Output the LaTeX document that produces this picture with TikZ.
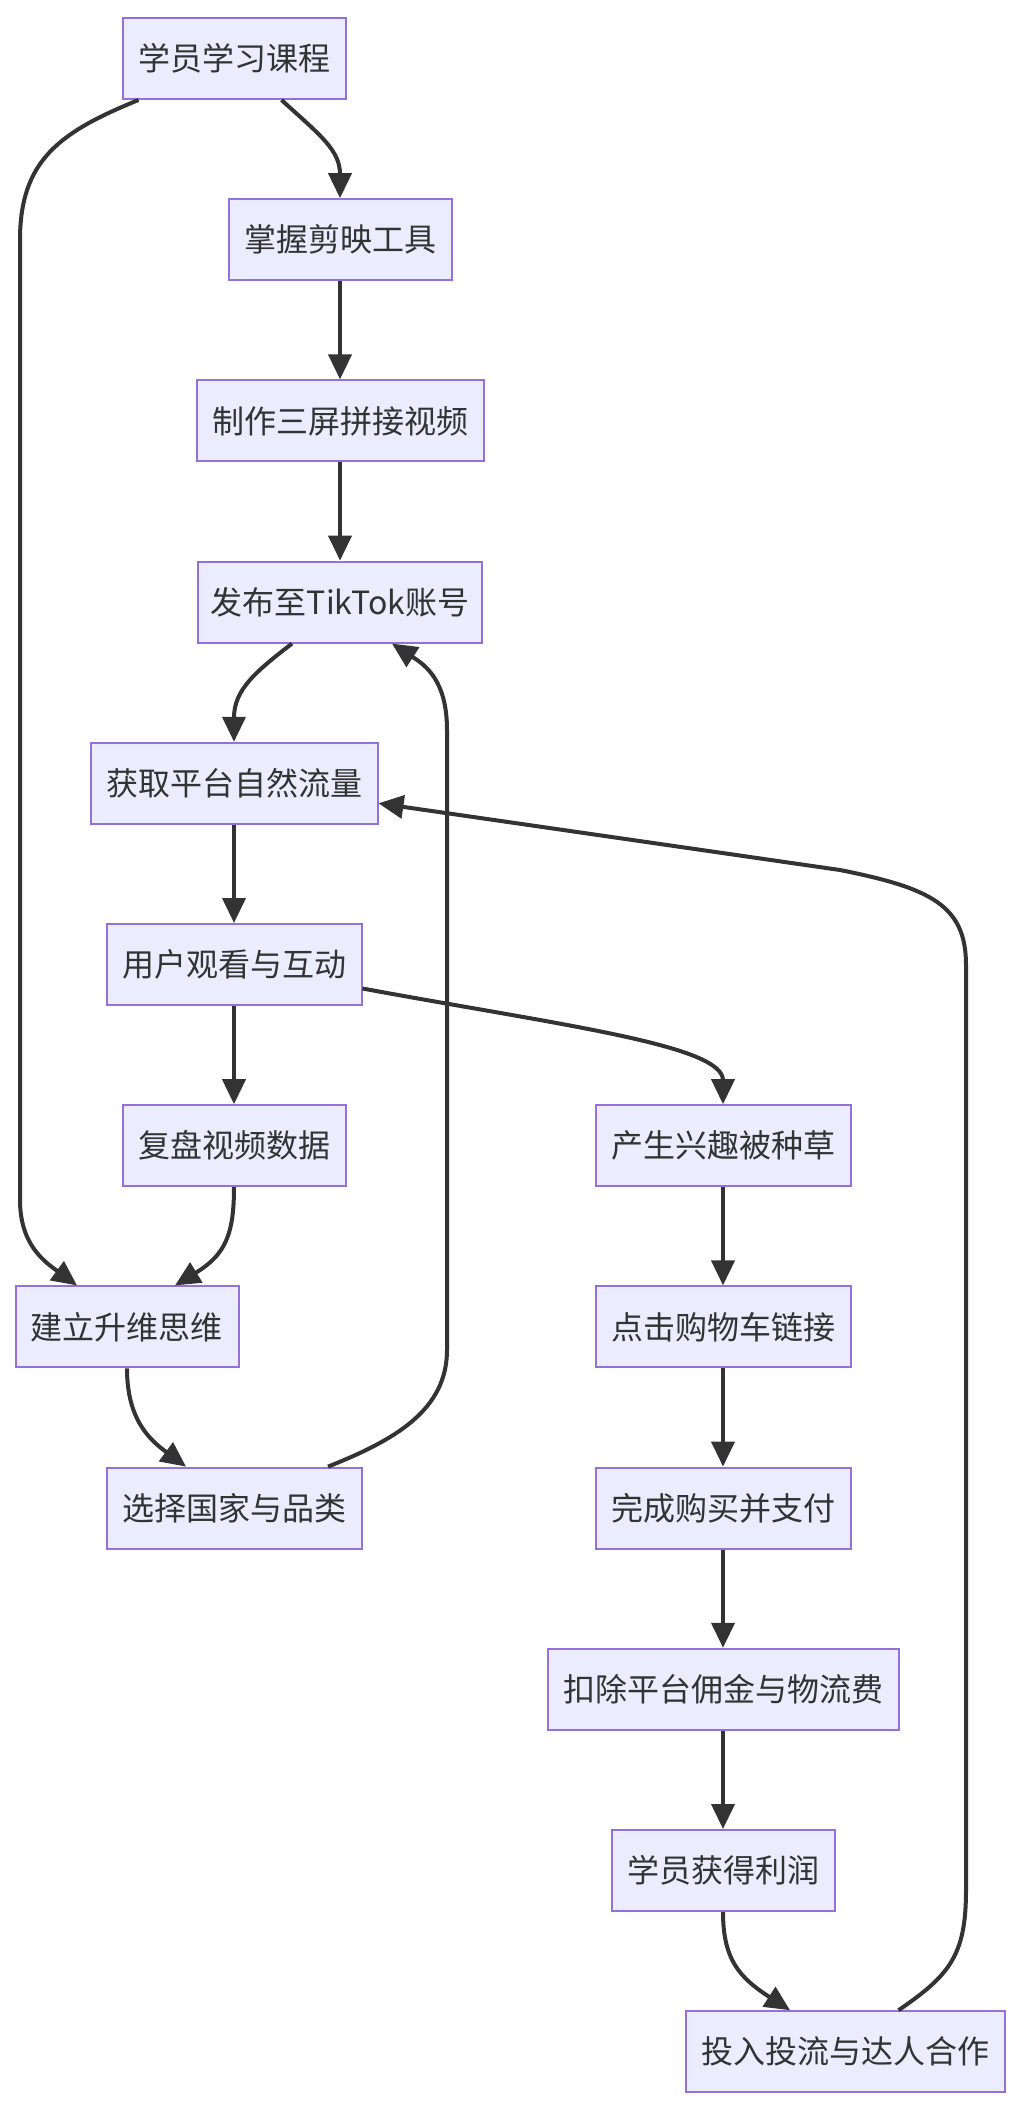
\documentclass[tikz,border=0pt]{standalone}
\usepackage{fontspec}
\setmainfont{Noto Sans CJK SC}
\usetikzlibrary{arrows.meta,calc}
\definecolor{nodefill}{HTML}{ECECFF}
\definecolor{nodeline}{HTML}{9370DB}
\definecolor{edgecol}{HTML}{333333}
\begin{document}
\begin{tikzpicture}[x=0.5pt,y=-0.5pt,
  box/.style={draw=nodeline,fill=nodefill,line width=1pt,minimum height=40.5pt,
    inner xsep=7.75pt,inner ysep=0pt,text=edgecol,font=\fontsize{16pt}{19pt}\selectfont},
  arr/.style={draw=edgecol,line width=2pt,-{Triangle[length=12.5pt,width=11.5pt]}}]
\useasboundingbox[fill=white] (0,0) rectangle (1020,2108);

\node[box] (A) at (234,58.5)   {学员学习课程};
\node[box] (B) at (340,239.7)  {掌握剪映工具};
\node[box] (C) at (340,420.9)  {制作三屏拼接视频};
\node[box,inner xsep=6.25pt] (D) at (340,602.1)  {发布至TikTok账号};
\node[box] (E) at (234,783.3)  {获取平台自然流量};
\node[box] (F) at (234,964.5)  {用户观看与互动};
\node[box] (G) at (234,1145.7) {复盘视频数据};
\node[box] (H) at (723,1145.7) {产生兴趣被种草};
\node[box] (I) at (127,1326.9) {建立升维思维};
\node[box] (J) at (723,1326.9) {点击购物车链接};
\node[box] (K) at (234,1508.1) {选择国家与品类};
\node[box] (L) at (723,1508.1) {完成购买并支付};
\node[box] (M) at (723,1689.3) {扣除平台佣金与物流费};
\node[box] (N) at (723,1870.5) {学员获得利润};
\node[box] (O) at (845,2051.7) {投入投流与达人合作};

\draw[arr] ($(A.south)+(47.5,0)$) .. controls (320,135) and (340,150) .. (B.north);
\draw[arr] ($(A.south)+(-95.5,0)$) .. controls (60,132) and (20,160) .. (20,240)
  -- (20,1200) .. controls (20,1245) and (45,1262) .. ($(I.north)+(-50,0)$);
\draw[arr] (B) -- (C);
\draw[arr] (C) -- (D);
\draw[arr] ($(D.south)+(-48,0)$) .. controls (255,672) and (234,690) .. (E.north);
\draw[arr] (E) -- (F);
\draw[arr] (F) -- (G);
\draw[arr] ($(F.east)+(0,24)$) .. controls (560,1025) and (723,1045) .. (H.north);
\draw[arr] (G.south) .. controls (234,1235) and (225,1255) .. ($(I.north)+(48,0)$);
\draw[arr] (I.south) .. controls (127,1420) and (150,1440) .. ($(K.north)+(-48,0)$);
\draw[arr] ($(K.north)+(94,0)$) .. controls (395,1440) and (447,1410) .. (447,1350)
  -- (447,730) .. controls (447,680) and (425,665) .. ($(D.south)+(52,0)$);
\draw[arr] (H) -- (J);
\draw[arr] (J) -- (L);
\draw[arr] (L) -- (M);
\draw[arr] (M) -- (N);
\draw[arr] (N.south) .. controls (723,1960) and (740,1978) .. ($(O.north)+(-55,0)$);
\draw[arr] ($(O.north)+(53.5,0)$) .. controls (950,1975) and (966,1955) .. (966,1890)
  -- (966,965) .. controls (966,905) and (930,888) .. (840,870) -- ($(E.east)+(0,20)$);
\end{tikzpicture}
\end{document}
